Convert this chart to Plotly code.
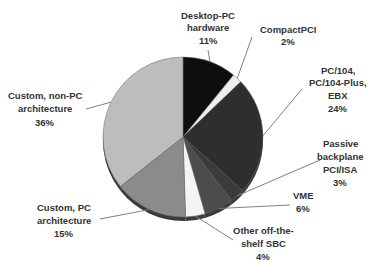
import math
import plotly.graph_objects as go

# ---- data ----
categories = ["Desktop-PC hardware", "CompactPCI", "PC/104, PC/104-Plus, EBX",
              "Passive backplane PCI/ISA", "VME", "Other off-the-shelf SBC",
              "Custom, PC architecture", "Custom, non-PC architecture"]
values = [11, 2, 24, 3, 6, 4, 15, 36]
label_lines = [["Desktop-PC", "hardware", "11%"], ["CompactPCI", "2%"],
               ["PC/104,", "PC/104-Plus,", "EBX", "24%"],
               ["Passive", "backplane", "PCI/ISA", "3%"], ["VME", "6%"],
               ["Other off-the-", "shelf SBC", "4%"],
               ["Custom, PC", "architecture", "15%"],
               ["Custom, non-PC", "architecture", "36%"]]
colors = ["#0e0e0e", "#eeeeee", "#2e2e2e", "#3b3b3b", "#4c4c4c", "#f4f4f4",
          "#8b8b8b", "#bdbdbd"]

# ---- layout constants (pixels) ----
W, H = 371, 262
cx, cy, r = 183, 137, 80
rim = 4
line_h = 13
# label first-line centres and leader-line ends
label_pos = [(208, 15), (288, 29), (338, 70), (340, 143), (303, 195),
             (263, 230), (64, 207), (45, 96)]
line_end = [(208, 50), (252, 37), (302, 89), (320, 160), (290, 205),
            (233, 240), (100, 219), (86, 109)]

def px(x):
    return x / W

def py(y):
    return 1 - y / H

fig = go.Figure()
# rim (shadow) pie
fig.add_trace(go.Pie(values=values, labels=[c + " " for c in categories],
                     sort=False, direction="clockwise", rotation=0,
                     marker=dict(colors=["#3a3a3a"] * len(values),
                                 line=dict(width=0)),
                     textinfo="none", hoverinfo="skip", showlegend=False,
                     domain=dict(x=[px(cx - r), px(cx + r)],
                                 y=[py(cy + rim + r), py(cy + rim - r)])))
fig.add_trace(go.Pie(values=values, labels=categories, sort=False,
                     direction="clockwise", rotation=0,
                     marker=dict(colors=colors, line=dict(color="#666666", width=0.5)),
                     textinfo="none", showlegend=False,
                     domain=dict(x=[px(cx - r), px(cx + r)],
                                 y=[py(cy + r), py(cy - r)])))

total = sum(values)
cum = 0
for i, v in enumerate(values):
    mid = (cum + v / 2) / total * 2 * math.pi
    cum += v
    ax_ = cx + r * math.sin(mid)
    ay_ = cy - r * math.cos(mid)
    ex, ey = line_end[i]
    fig.add_shape(type="line", xref="paper", yref="paper",
                  x0=px(ax_), y0=py(ay_), x1=px(ex), y1=py(ey),
                  line=dict(color="#808080", width=1))
    lx, ly = label_pos[i]
    for k, t in enumerate(label_lines[i]):
        fig.add_annotation(x=px(lx), y=py(ly + k * line_h), xref="paper", yref="paper",
                           text="<b>" + t + "</b>", showarrow=False,
                           xanchor="center", yanchor="middle", align="center",
                           font=dict(family="Liberation Sans, Arial", size=9.5,
                                     color="#333333"))

fig.update_layout(width=W, height=H, margin=dict(l=0, r=0, t=0, b=0),
                  paper_bgcolor="white", plot_bgcolor="white",
                  showlegend=False)
fig.write_html("out.html", config={"displayModeBar": False},
               post_script="document.body.style.margin='0';")
